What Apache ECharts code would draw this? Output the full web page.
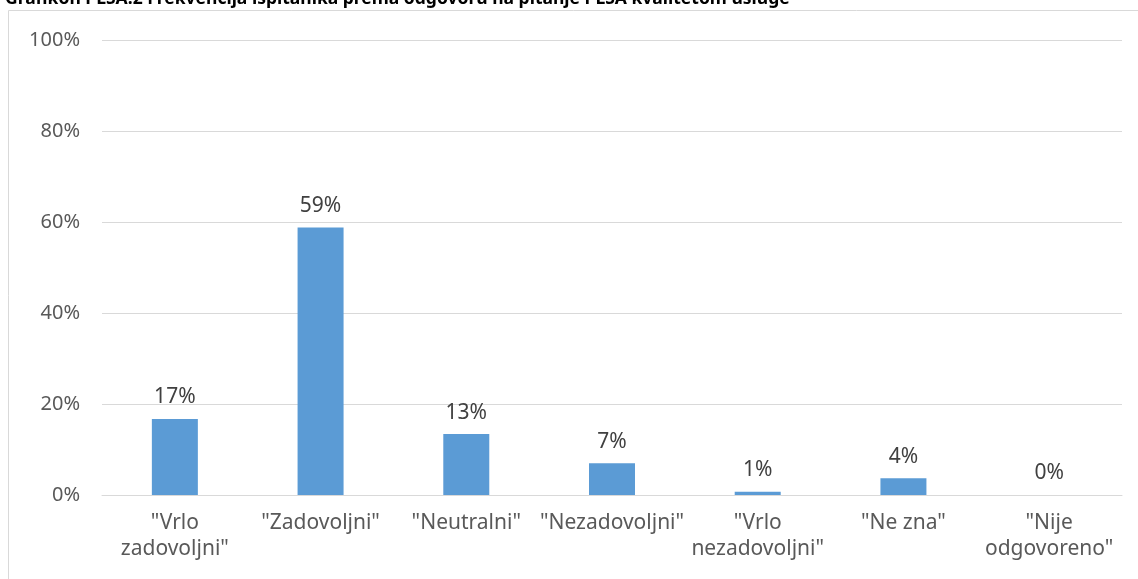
<!DOCTYPE html>
<html>
<head>
<meta charset="utf-8">
<script src="https://cdn.jsdelivr.net/npm/echarts@6/dist/echarts.min.js"></script>
<style>html,body{margin:0;padding:0;background:#fff}#c{width:1138px;height:579px}</style>
</head>
<body>
<div id="c"></div>
<script>
const titleText = 'Grafikon PLSA.2 Frekvencija ispitanika prema odgovoru na pitanje PLSA kvalitetom usluge';
const categories = ['"Vrlo\nzadovoljni"', '"Zadovoljni"', '"Neutralni"', '"Nezadovoljni"', '"Vrlo\nnezadovoljni"', '"Ne zna"', '"Nije\nodgovoreno"'];
const values = [16.7, 58.8, 13.4, 7.0, 0.7, 3.7, 0];
const yTicks = [0, 20, 40, 60, 80, 100];

const chart = echarts.init(document.getElementById('c'));
const font = 'Noto Sans';
chart.setOption({
  animation: false,
  title: {
    text: titleText, left: 0, top: -15,
    textStyle: { fontFamily: font, fontWeight: 'bold', fontSize: 17.5, color: '#000' }
  },
  graphic: [{
    type: 'rect', shape: { x: 8.5, y: 10.5, width: 1200, height: 700 },
    style: { fill: 'none', stroke: '#d9d9d9', lineWidth: 1 }, silent: true, z: -1
  }],
  grid: { left: 102, right: 16, top: 40, bottom: 84 },
  xAxis: {
    type: 'category', data: categories,
    axisTick: { show: false },
    axisLine: { lineStyle: { color: '#d9d9d9', width: 1 } },
    axisLabel: { fontFamily: font, fontSize: 21, color: '#595959', margin: 15, lineHeight: 26, interval: 0 }
  },
  yAxis: {
    type: 'value', min: yTicks[0], max: yTicks[yTicks.length - 1], interval: 20,
    axisLine: { show: false }, axisTick: { show: false },
    splitLine: { lineStyle: { color: '#d9d9d9', width: 1 } },
    axisLabel: { fontFamily: font, fontSize: 20, color: '#595959', margin: 22, formatter: v => v + '%' }
  },
  series: [{
    type: 'bar', data: values, barWidth: 46,
    itemStyle: { color: '#5b9bd5' },
    label: {
      show: true, position: 'top', distance: 11,
      fontFamily: font, fontSize: 21, color: '#404040',
      formatter: p => Math.round(p.value) + '%'
    }
  }]
});
</script>
</body>
</html>
